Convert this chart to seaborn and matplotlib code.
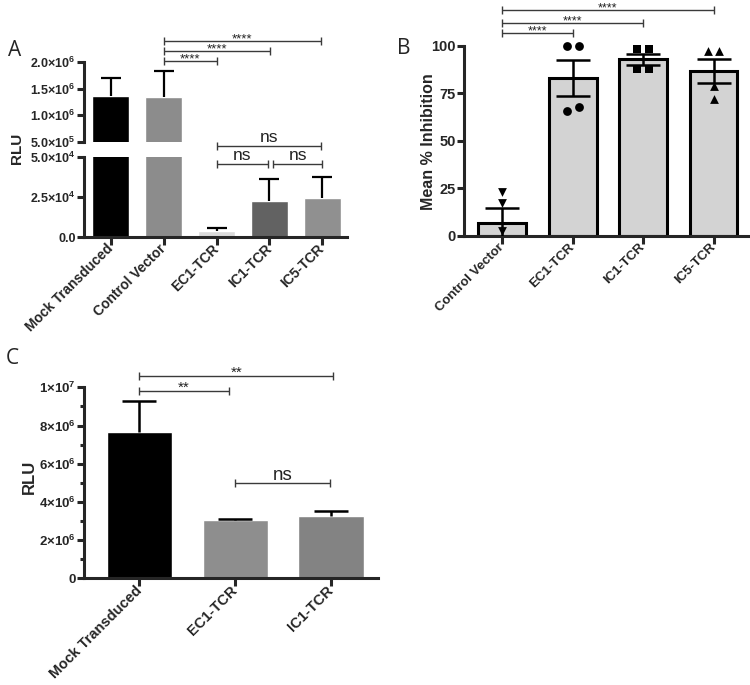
import numpy as np
import matplotlib
matplotlib.use("Agg")
import matplotlib.pyplot as plt
from matplotlib.ticker import MultipleLocator
import seaborn as sns

# ---- panel A: luciferase RLU, broken axis
a_groups = ["Mock Transduced", "Control Vector", "EC1-TCR", "IC1-TCR", "IC5-TCR"]
a_means = [1.37e6, 1.35e6, 3.7e3, 2.25e4, 2.42e4]
a_err = [3.3e5, 4.8e5, 1.7e3, 1.39e4, 1.35e4]
a_colors = ["#000000", "#8c8c8c", "#d9d9d9", "#626262", "#909090"]
a_top_ticks = [5e5, 1e6, 1.5e6, 2e6]
a_top_labels = ["5.0×10$^{5}$", "1.0×10$^{6}$", "1.5×10$^{6}$", "2.0×10$^{6}$"]
a_bot_ticks = [0, 2.5e4, 5e4]
a_bot_labels = ["0.0", "2.5×10$^{4}$", "5.0×10$^{4}$"]

# ---- panel B: mean % inhibition with replicate points
b_groups = ["Control Vector", "EC1-TCR", "IC1-TCR", "IC5-TCR"]
b_means = [6.5, 83.2, 92.8, 86.8]
b_sem = [8.2, 9.5, 3.0, 6.4]
b_points = [
    [23.0, 17.3, 2.5],
    [100.0, 100.0, 65.6, 67.6],
    [98.0, 98.0, 87.6, 87.6],
    [97.4, 97.4, 78.8, 71.8],
]
b_markers = ["v", "o", "s", "^"]
b_ticks = [0, 25, 50, 75, 100]

# ---- panel C: RLU
c_groups = ["Mock Transduced", "EC1-TCR", "IC1-TCR"]
c_means = [7.64e6, 3.05e6, 3.28e6]
c_err = [1.66e6, 0.04e6, 0.23e6]
c_colors = ["#000000", "#8e8e8e", "#838383"]
c_ticks = [0, 2e6, 4e6, 6e6, 8e6, 1e7]
c_labels = ["0", "2×10$^{6}$", "4×10$^{6}$", "6×10$^{6}$", "8×10$^{6}$", "1×10$^{7}$"]

W, H = 750, 685
SPINE = 2.2


def add_ax(fig, left, top, right, bottom):
    return fig.add_axes([left / W, 1 - bottom / H, (right - left) / W, (bottom - top) / H])


def style(ax, ylabsize=9):
    sns.despine(ax=ax)
    for s in ("left", "bottom"):
        ax.spines[s].set_linewidth(SPINE)
    ax.tick_params(axis="y", width=SPINE, length=5, labelsize=ylabsize, pad=1)
    ax.tick_params(axis="x", width=SPINE, length=6, pad=1)
    for t in ax.get_yticklabels():
        t.set_fontweight("bold")
    ax.set_xlabel("")
    ax.set_ylabel("")


def xlabels(ax, groups, size):
    ax.set_xticks(range(len(groups)))
    ax.set_xticklabels(groups, rotation=45, ha="right", va="center",
                       rotation_mode="anchor", fontweight="bold", fontsize=size)


def up_errors(ax, means, errs, lw, cap):
    # Prism style: only the upper half of the error bar is drawn
    eb = ax.errorbar(range(len(means)), means, yerr=[np.zeros(len(errs)), errs],
                     fmt="none", ecolor="black", elinewidth=lw, capsize=cap, capthick=lw)
    for line in eb.lines[1]:
        if np.allclose(line.get_ydata(), means):
            line.set_visible(False)


def bracket(ax, x1, x2, y, label, size, gap, color="#3a3a3a"):
    ax.plot([x1, x2], [y, y], color=color, lw=1.0, marker="|", ms=6, mew=1.0,
            clip_on=False, solid_capstyle="butt")
    ax.annotate(label, xy=((x1 + x2) / 2, y), xytext=(0, gap), textcoords="offset points",
                ha="center", va="baseline", fontsize=size, color="#222222",
                annotation_clip=False)


def spread(vals, tol=4.0, step=0.085):
    vals = np.asarray(vals)
    offs = np.zeros(len(vals))
    used = np.zeros(len(vals), bool)
    for i in range(len(vals)):
        if used[i]:
            continue
        grp = [j for j in range(len(vals)) if not used[j] and abs(vals[j] - vals[i]) < tol]
        for k, j in enumerate(grp):
            offs[j] = (k - (len(grp) - 1) / 2) * 2 * step
            used[j] = True
    return offs


sns.set_style("ticks")
plt.rcParams["font.family"] = ["Liberation Sans", "DejaVu Sans"]
plt.rcParams["mathtext.default"] = "regular"

fig = plt.figure(figsize=(7.5, 6.85), dpi=100)

# ---------------- A ----------------
ax_top = add_ax(fig, 84, 62, 347, 142)
ax_bot = add_ax(fig, 84, 157, 347, 237)
for ax in (ax_top, ax_bot):
    sns.barplot(x=a_groups, y=a_means, hue=a_groups, palette=a_colors, saturation=1,
                width=0.7, legend=False, errorbar=None, ax=ax)
    up_errors(ax, a_means, a_err, 1.6, 7)
    ax.set_xlim(-0.51, 4.47)
    style(ax)
ax_top.set_ylim(5e5, 2e6)
ax_top.set_yticks(a_top_ticks)
ax_top.set_yticklabels(a_top_labels, fontweight="bold")
ax_top.spines["bottom"].set_visible(False)
ax_top.tick_params(axis="x", bottom=False, labelbottom=False)
ax_bot.set_ylim(0, 5e4)
ax_bot.set_yticks(a_bot_ticks)
ax_bot.set_yticklabels(a_bot_labels, fontweight="bold")
xlabels(ax_bot, a_groups, 10)

bracket(ax_top, 1, 2, 2.024e6, "****", 9.5, -1)
bracket(ax_top, 1, 3.02, 2.212e6, "****", 9.5, -1)
bracket(ax_top, 1, 3.98, 2.40e6, "****", 9.5, -1)
bracket(ax_bot, 2, 3.98, 5.7e4, "ns", 12.5, 3)
bracket(ax_bot, 2, 2.97, 4.54e4, "ns", 12.5, 3)
bracket(ax_bot, 3.07, 4.0, 4.54e4, "ns", 12.5, 3)

fig.text(17 / W, 1 - 148 / H, "RLU", rotation=90, fontsize=11, fontweight="bold",
         ha="center", va="center")
fig.text(15 / W, 1 - 51 / H, "A", fontsize=15, family="Open Sans", ha="center", va="center")

# ---------------- B ----------------
ax_b = add_ax(fig, 464, 45.7, 748, 235.7)
sns.barplot(x=b_groups, y=b_means, color="#d3d3d3", saturation=1, width=0.68,
            edgecolor="black", linewidth=2.2, errorbar=None, ax=ax_b)
ax_b.errorbar(range(len(b_groups)), b_means, yerr=b_sem, fmt="none", ecolor="black",
              elinewidth=1.8, capsize=12, capthick=1.8, zorder=3)
for i, (pts, m) in enumerate(zip(b_points, b_markers)):
    ax_b.scatter(i + spread(pts), pts, marker=m, s=40, color="black", zorder=4,
                 clip_on=False, linewidths=0)
ax_b.set_ylim(0, 100)
ax_b.set_xlim(-0.545, 3.49)
ax_b.set_yticks(b_ticks)
style(ax_b, ylabsize=10.5)
xlabels(ax_b, b_groups, 9.5)
bracket(ax_b, 0, 1, 106.5, "****", 9, -1)
bracket(ax_b, 0, 2, 112.1, "****", 9, -1)
bracket(ax_b, 0, 3, 118.8, "****", 9, -1)
fig.text(429 / W, 1 - 141.7 / H, "Mean % Inhibition", rotation=90, fontsize=11.5,
         fontweight="bold", ha="center", va="center")
fig.text(404 / W, 1 - 49 / H, "B", fontsize=15, family="Open Sans", ha="center", va="center")

# ---------------- C ----------------
ax_c = add_ax(fig, 84.3, 387.3, 378, 578.3)
sns.barplot(x=c_groups, y=c_means, hue=c_groups, palette=c_colors, saturation=1,
            width=0.68, legend=False, errorbar=None, ax=ax_c)
up_errors(ax_c, c_means, c_err, 1.8, 12.5)
ax_c.set_ylim(0, 1e7)
ax_c.set_xlim(-0.575, 2.49)
ax_c.set_yticks(c_ticks)
ax_c.set_yticklabels(c_labels, fontweight="bold")
ax_c.yaxis.set_minor_locator(MultipleLocator(1e6))
style(ax_c, ylabsize=9.5)
ax_c.tick_params(axis="y", which="minor", width=SPINE, length=3)
xlabels(ax_c, c_groups, 10.5)
bracket(ax_c, 0, 0.93, 9.82e6, "**", 11, -1)
bracket(ax_c, 0, 2.02, 10.61e6, "**", 11, -1)
bracket(ax_c, 1, 1.99, 4.97e6, "ns", 13.5, 2.5)
fig.text(29 / W, 1 - 476.7 / H, "RLU", rotation=90, fontsize=12, fontweight="bold",
         ha="center", va="center")
fig.text(12.5 / W, 1 - 358.5 / H, "C", fontsize=15, family="Open Sans", ha="center", va="center")

fig.savefig("out.png", dpi=100)
